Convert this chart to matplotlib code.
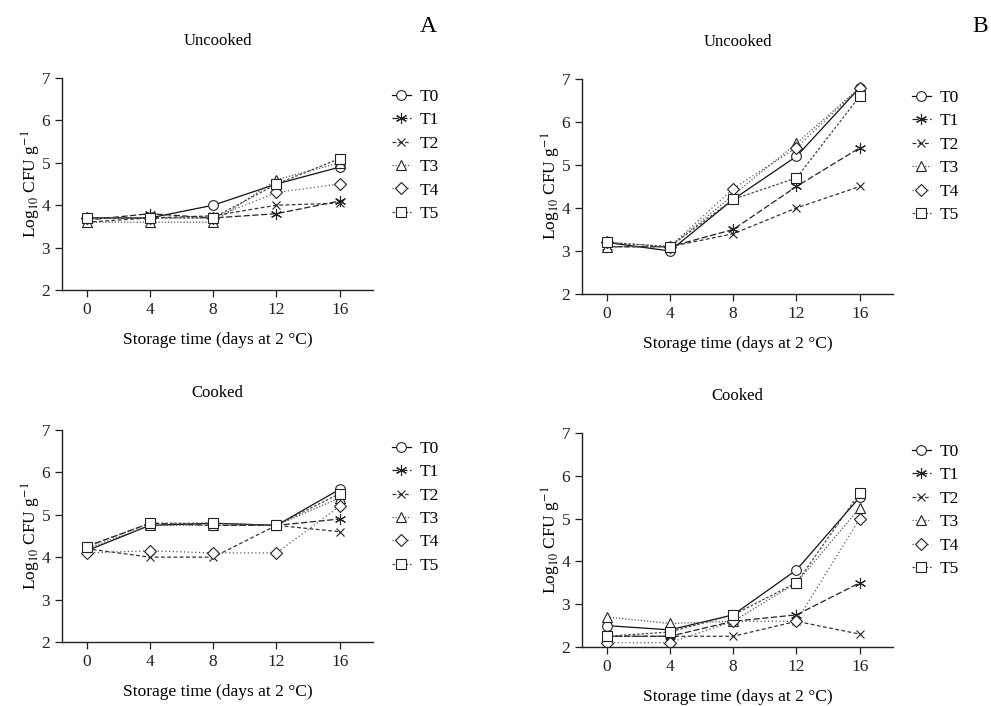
import matplotlib
matplotlib.use('Agg')
import matplotlib.pyplot as plt

plt.rcParams['font.family'] = ['Liberation Serif', 'DejaVu Serif']
plt.rcParams['mathtext.fontset'] = 'stix'

days = [0, 4, 8, 12, 16]
treatments = ['T0', 'T1', 'T2', 'T3', 'T4', 'T5']

# rows = T0..T5, columns = days
a_uncooked = [
    [3.7, 3.7, 4.0, 4.5, 4.9],
    [3.65, 3.8, 3.7, 3.8, 4.1],
    [3.6, 3.7, 3.75, 4.0, 4.05],
    [3.6, 3.6, 3.6, 4.6, 5.0],
    [3.7, 3.7, 3.7, 4.3, 4.5],
    [3.7, 3.7, 3.7, 4.5, 5.1],
]
b_uncooked = [
    [3.2, 3.0, 4.2, 5.2, 6.8],
    [3.1, 3.1, 3.5, 4.5, 5.4],
    [3.1, 3.1, 3.4, 4.0, 4.5],
    [3.1, 3.1, 4.3, 5.5, 6.8],
    [3.2, 3.1, 4.45, 5.4, 6.8],
    [3.2, 3.1, 4.2, 4.7, 6.6],
]
a_cooked = [
    [4.15, 4.75, 4.8, 4.75, 5.6],
    [4.25, 4.8, 4.75, 4.75, 4.9],
    [4.2, 4.0, 4.0, 4.75, 4.6],
    [4.2, 4.75, 4.75, 4.75, 5.4],
    [4.1, 4.15, 4.1, 4.1, 5.2],
    [4.25, 4.8, 4.8, 4.75, 5.5],
]
b_cooked = [
    [2.5, 2.4, 2.75, 3.8, 5.5],
    [2.25, 2.25, 2.6, 2.75, 3.5],
    [2.25, 2.25, 2.25, 2.6, 2.3],
    [2.7, 2.55, 2.6, 3.5, 5.25],
    [2.1, 2.1, 2.6, 2.6, 5.0],
    [2.25, 2.35, 2.75, 3.5, 5.6],
]

markers = ['o', (6, 2, 0), 'x', '^', 'D', 's']
msizes = [7, 8, 6, 7, 6, 7]
styles = ['-', (0, (5, 2)), (0, (3, 2)), (0, (1, 1.5)), (0, (1, 2)), (0, (2, 1.5))]
colors = ['#111111', '#222222', '#333333', '#555555', '#555555', '#444444']

fig = plt.figure(figsize=(9.91, 7.06), dpi=100)

panels = [
    (a_uncooked, 'Uncooked', [0.0626, 0.5892, 0.3138, 0.3003]),
    (b_uncooked, 'Uncooked', [0.5873, 0.5836, 0.3138, 0.3045]),
    (a_cooked, 'Cooked', [0.0626, 0.0907, 0.3138, 0.3003]),
    (b_cooked, 'Cooked', [0.5873, 0.0836, 0.3138, 0.3031]),
]

for data, title, pos in panels:
    ax = fig.add_axes(pos)
    for i, t in enumerate(treatments):
        ax.plot(days, data[i], linestyle=styles[i], color=colors[i], lw=0.9,
                marker=markers[i], markersize=msizes[i], markerfacecolor='white',
                markeredgecolor='#222222', markeredgewidth=0.8, label=t)
    ax.set_xlim(-1.55, 18.1)
    ax.set_ylim(2, 7)
    ax.set_xticks(days)
    ax.set_yticks([2, 3, 4, 5, 6, 7])
    for s in ['top', 'right']:
        ax.spines[s].set_visible(False)
    for s in ['left', 'bottom']:
        ax.spines[s].set_linewidth(1.0)
        ax.spines[s].set_color('#222222')
    ax.tick_params(labelsize=12.5, length=5, width=0.9, colors='#222222')
    ax.set_title(title, fontsize=12, pad=24)
    ax.set_xlabel('Storage time (days at 2 °C)', fontsize=12.5, labelpad=10)
    ax.set_ylabel('Log$_{10}$ CFU g$^{-1}$', fontsize=12.5, labelpad=-1)
    ax.legend(loc='upper left', bbox_to_anchor=(1.06, 0.95), frameon=False,
              fontsize=12.5, handlelength=1.1, handletextpad=0.5,
              labelspacing=0.42, borderpad=0, borderaxespad=0)

fig.text(0.432, 0.962, 'A', fontsize=17, ha='center', va='center')
fig.text(0.989, 0.962, 'B', fontsize=17, ha='center', va='center')

fig.savefig('out.png', dpi=100)
